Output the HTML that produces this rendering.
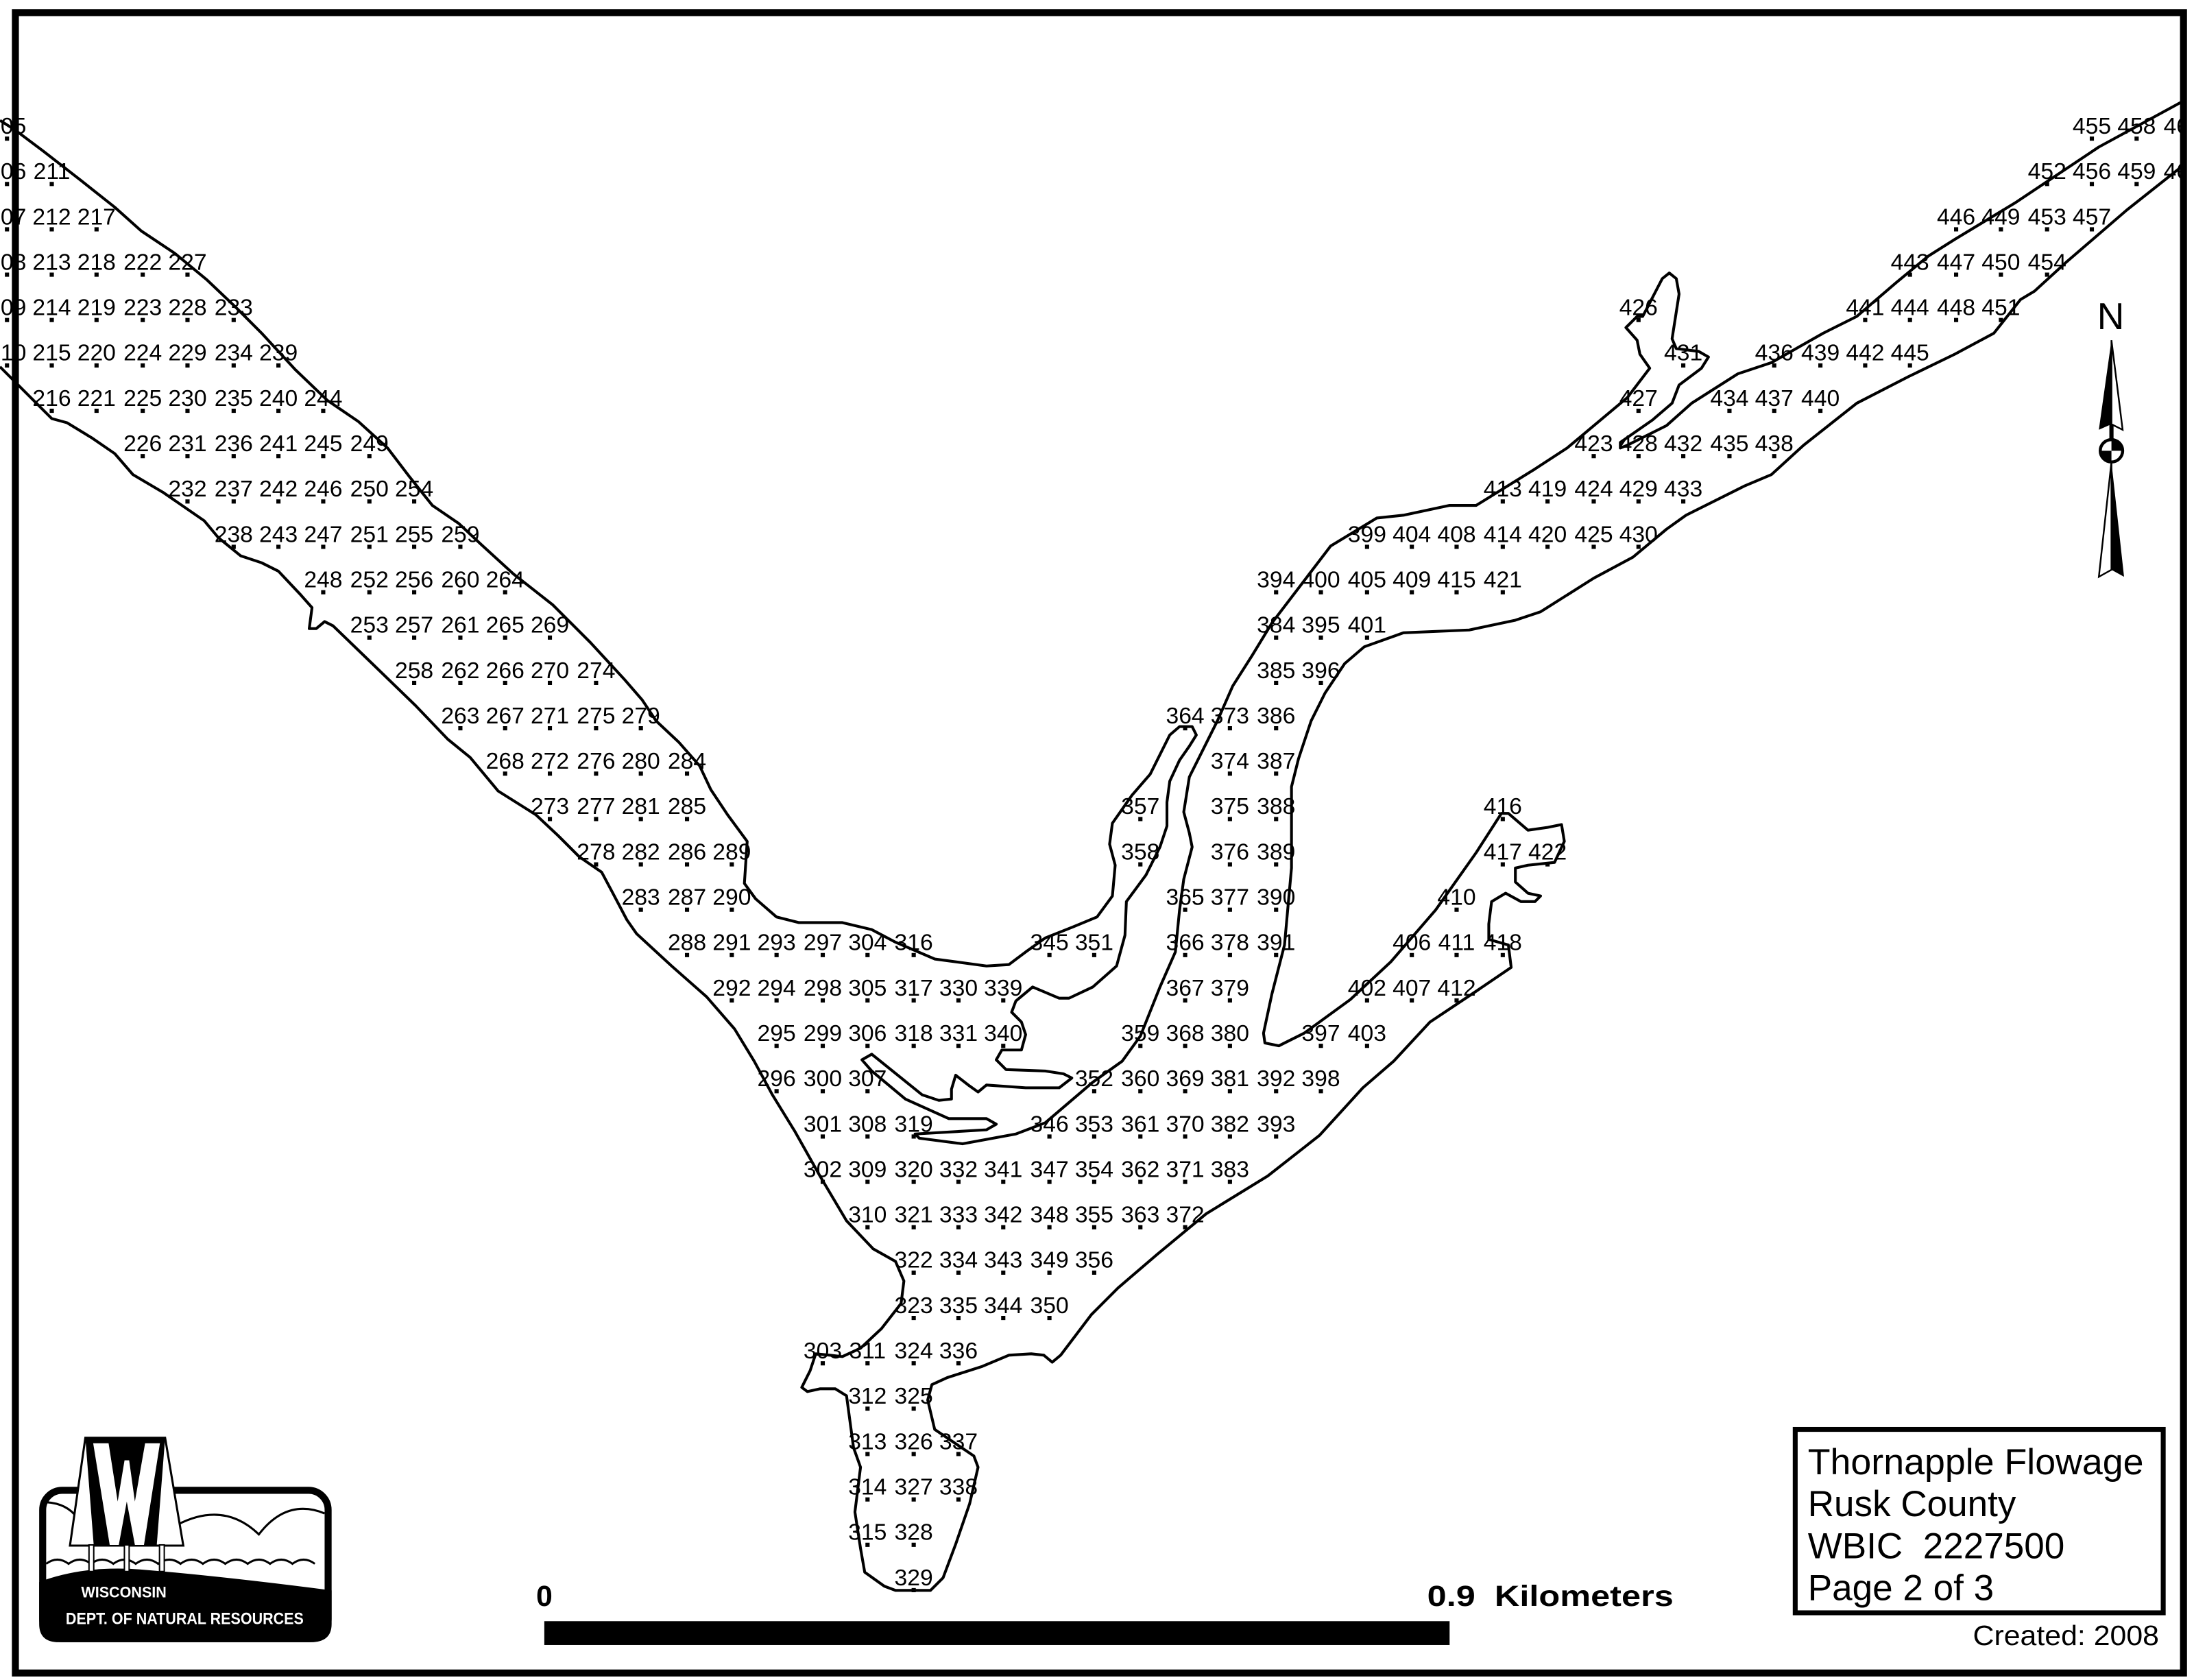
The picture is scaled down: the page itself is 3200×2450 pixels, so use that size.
<!DOCTYPE html>
<html><head><meta charset="utf-8"><style>
html,body{margin:0;padding:0;background:#fff}
svg{display:block}
.l text{font-family:"Liberation Sans",sans-serif;font-size:16.5px;text-anchor:middle;fill:#000}
.l path{stroke:#000;stroke-width:3;fill:none}
</style></head><body>
<svg width="3200" height="2450" viewBox="0 0 1568 1200" preserveAspectRatio="none" xmlns="http://www.w3.org/2000/svg">
<defs><clipPath id="c"><rect x="0" y="0" width="1560" height="1200"/></clipPath></defs>
<rect width="1568" height="1200" fill="#fff"/>
<g clip-path="url(#c)">
<g fill="none" stroke="#000" stroke-width="2" stroke-linejoin="round">
<polyline points="0,86 11,93 31,108 58,129 82,148 101,165 125,181 148,200 168,219 187,238 211,264 234,286 256,301 277,320 293,341 309,361 328,374 344,389 367,410 395,432 422,459 446,485 459,500 469,515 485,530 500,547 508,564 520,582 534,601 532,631 540,642 555,655 571,659 602,659 623,664 640,673 668,685 705,690 721,689 733,680 747,670 767,662 784,655 795,640 797,618 793,603 795,588 809,568 822,553 836,525 843,519 852,519 855,525 850,533 843,543 836,558 834,573 834,590 829,605 819,625 805,644 804,668 798,690 781,705 764,713 757,713 738,705 726,715 723,723 730,730 733,739 730,750 716,750 712,757 719,764 747,765 760,767 766,770 757,777 733,777 705,775 699,780 692,775 683,768 680,778 680,785 671,786 659,782 623,753 616,757 623,765 647,785 678,799 705,799 712,803 705,807 654,810 657,813 688,817 726,810 747,802 781,773 802,758 815,740 829,705 840,680 843,650 846,628 852,605 850,595 846,580 850,555 860,535 870,515 881,490 895,468 909,445 951,390 984,370 1003,368 1036,361 1055,361 1097,335 1120,320 1163,284 1179,263 1172,253 1170,243 1162,234 1170,226 1174,226 1188,199 1193,195 1198,199 1200,210 1195,242 1198,249 1214,251 1221,255 1216,263 1200,275 1195,288 1181,300 1158,316 1158,320 1163,318 1191,304 1209,288 1242,267 1266,259 1303,238 1327,226 1355,202 1378,183 1397,171 1440,145 1500,105 1568,68"/>
<polyline points="1568,112 1520,150 1477,187 1454,208 1444,214 1425,238 1397,253 1364,269 1327,288 1289,318 1266,339 1247,347 1205,368 1191,378 1167,398 1139,413 1101,437 1083,443 1050,450 1003,452 975,462 961,474 947,495 937,515 928,542 923,562 923,620 918,675 909,710 903,738 904,745 914,747 932,738 965,714 994,687 1026,650 1055,609 1073,581 1078,581 1092,593 1106,591 1116,589 1118,601 1111,616 1092,618 1083,620 1083,630 1092,638 1101,640 1097,644 1087,644 1076,638 1066,644 1064,660 1064,671 1078,675 1080,691 1055,708 1022,730 996,758 974,777 943,811 906,840 862,867 827,896 799,920 780,939 758,968 752,973 746,968 737,967 721,968 702,976 677,984 666,989 663,1000 668,1021 696,1040 699,1048 693,1074 683,1103 674,1127 665,1136 640,1136 632,1133 618,1123 615,1106 611,1080 615,1048 610,1034 605,997 597,992 586,992 577,994 573,991 579,979 583,967 593,968 602,969 615,963 630,949 644,931 646,915 640,901 624,892 605,872 586,840 568,808 552,782 539,758 525,735 505,712 480,690 455,667 448,657 438,638 430,623 414,612 399,597 383,582 356,565 336,541 320,528 297,504 266,474 238,447 232,444 226,449 221,449 223,434 215,425 199,408 187,402 172,397 156,384 146,372 117,352 95,339 82,324 66,313 48,302 37,299 15,277 0,262"/>
</g>
<g class="l">
<g transform="translate(0,95.5)"><text x="5">205</text><text x="1495">455</text><text x="1527">458</text><text x="1560">460</text><path d="M3.5 3.5h3M1493.5 3.5h3M1525.5 3.5h3M1558.5 3.5h3"/></g>
<g transform="translate(0,127.9)"><text x="5">206</text><text x="37">211</text><text x="1463">452</text><text x="1495">456</text><text x="1527">459</text><text x="1560">461</text><path d="M3.5 3.5h3M35.5 3.5h3M1461.5 3.5h3M1493.5 3.5h3M1525.5 3.5h3M1558.5 3.5h3"/></g>
<g transform="translate(0,160.3)"><text x="5">207</text><text x="37">212</text><text x="69">217</text><text x="1398">446</text><text x="1430">449</text><text x="1463">453</text><text x="1495">457</text><path d="M3.5 3.5h3M35.5 3.5h3M67.5 3.5h3M1396.5 3.5h3M1428.5 3.5h3M1461.5 3.5h3M1493.5 3.5h3"/></g>
<g transform="translate(0,192.7)"><text x="5">208</text><text x="37">213</text><text x="69">218</text><text x="102">222</text><text x="134">227</text><text x="1365">443</text><text x="1398">447</text><text x="1430">450</text><text x="1463">454</text><path d="M3.5 3.5h3M35.5 3.5h3M67.5 3.5h3M100.5 3.5h3M132.5 3.5h3M1363.5 3.5h3M1396.5 3.5h3M1428.5 3.5h3M1461.5 3.5h3"/></g>
<g transform="translate(0,225.1)"><text x="5">209</text><text x="37">214</text><text x="69">219</text><text x="102">223</text><text x="134">228</text><text x="167">233</text><text x="1171">426</text><text x="1333">441</text><text x="1365">444</text><text x="1398">448</text><text x="1430">451</text><path d="M3.5 3.5h3M35.5 3.5h3M67.5 3.5h3M100.5 3.5h3M132.5 3.5h3M165.5 3.5h3M1169.5 3.5h3M1331.5 3.5h3M1363.5 3.5h3M1396.5 3.5h3M1428.5 3.5h3"/></g>
<g transform="translate(0,257.5)"><text x="5">210</text><text x="37">215</text><text x="69">220</text><text x="102">224</text><text x="134">229</text><text x="167">234</text><text x="199">239</text><text x="1203">431</text><text x="1268">436</text><text x="1301">439</text><text x="1333">442</text><text x="1365">445</text><path d="M3.5 3.5h3M35.5 3.5h3M67.5 3.5h3M100.5 3.5h3M132.5 3.5h3M165.5 3.5h3M197.5 3.5h3M1201.5 3.5h3M1266.5 3.5h3M1299.5 3.5h3M1331.5 3.5h3M1363.5 3.5h3"/></g>
<g transform="translate(0,289.9)"><text x="37">216</text><text x="69">221</text><text x="102">225</text><text x="134">230</text><text x="167">235</text><text x="199">240</text><text x="231">244</text><text x="1171">427</text><text x="1236">434</text><text x="1268">437</text><text x="1301">440</text><path d="M35.5 3.5h3M67.5 3.5h3M100.5 3.5h3M132.5 3.5h3M165.5 3.5h3M197.5 3.5h3M229.5 3.5h3M1169.5 3.5h3M1234.5 3.5h3M1266.5 3.5h3M1299.5 3.5h3"/></g>
<g transform="translate(0,322.3)"><text x="102">226</text><text x="134">231</text><text x="167">236</text><text x="199">241</text><text x="231">245</text><text x="264">249</text><text x="1139">423</text><text x="1171">428</text><text x="1203">432</text><text x="1236">435</text><text x="1268">438</text><path d="M100.5 3.5h3M132.5 3.5h3M165.5 3.5h3M197.5 3.5h3M229.5 3.5h3M262.5 3.5h3M1137.5 3.5h3M1169.5 3.5h3M1201.5 3.5h3M1234.5 3.5h3M1266.5 3.5h3"/></g>
<g transform="translate(0,354.7)"><text x="134">232</text><text x="167">237</text><text x="199">242</text><text x="231">246</text><text x="264">250</text><text x="296">254</text><text x="1074">413</text><text x="1106">419</text><text x="1139">424</text><text x="1171">429</text><text x="1203">433</text><path d="M132.5 3.5h3M165.5 3.5h3M197.5 3.5h3M229.5 3.5h3M262.5 3.5h3M294.5 3.5h3M1072.5 3.5h3M1104.5 3.5h3M1137.5 3.5h3M1169.5 3.5h3M1201.5 3.5h3"/></g>
<g transform="translate(0,387.1)"><text x="167">238</text><text x="199">243</text><text x="231">247</text><text x="264">251</text><text x="296">255</text><text x="329">259</text><text x="977">399</text><text x="1009">404</text><text x="1041">408</text><text x="1074">414</text><text x="1106">420</text><text x="1139">425</text><text x="1171">430</text><path d="M165.5 3.5h3M197.5 3.5h3M229.5 3.5h3M262.5 3.5h3M294.5 3.5h3M327.5 3.5h3M975.5 3.5h3M1007.5 3.5h3M1039.5 3.5h3M1072.5 3.5h3M1104.5 3.5h3M1137.5 3.5h3M1169.5 3.5h3"/></g>
<g transform="translate(0,419.5)"><text x="231">248</text><text x="264">252</text><text x="296">256</text><text x="329">260</text><text x="361">264</text><text x="912">394</text><text x="944">400</text><text x="977">405</text><text x="1009">409</text><text x="1041">415</text><text x="1074">421</text><path d="M229.5 3.5h3M262.5 3.5h3M294.5 3.5h3M327.5 3.5h3M359.5 3.5h3M910.5 3.5h3M942.5 3.5h3M975.5 3.5h3M1007.5 3.5h3M1039.5 3.5h3M1072.5 3.5h3"/></g>
<g transform="translate(0,451.9)"><text x="264">253</text><text x="296">257</text><text x="329">261</text><text x="361">265</text><text x="393">269</text><text x="912">384</text><text x="944">395</text><text x="977">401</text><path d="M262.5 3.5h3M294.5 3.5h3M327.5 3.5h3M359.5 3.5h3M391.5 3.5h3M910.5 3.5h3M942.5 3.5h3M975.5 3.5h3"/></g>
<g transform="translate(0,484.3)"><text x="296">258</text><text x="329">262</text><text x="361">266</text><text x="393">270</text><text x="426">274</text><text x="912">385</text><text x="944">396</text><path d="M294.5 3.5h3M327.5 3.5h3M359.5 3.5h3M391.5 3.5h3M424.5 3.5h3M910.5 3.5h3M942.5 3.5h3"/></g>
<g transform="translate(0,516.7)"><text x="329">263</text><text x="361">267</text><text x="393">271</text><text x="426">275</text><text x="458">279</text><text x="847">364</text><text x="879">373</text><text x="912">386</text><path d="M327.5 3.5h3M359.5 3.5h3M391.5 3.5h3M424.5 3.5h3M456.5 3.5h3M845.5 3.5h3M877.5 3.5h3M910.5 3.5h3"/></g>
<g transform="translate(0,549.1)"><text x="361">268</text><text x="393">272</text><text x="426">276</text><text x="458">280</text><text x="491">284</text><text x="879">374</text><text x="912">387</text><path d="M359.5 3.5h3M391.5 3.5h3M424.5 3.5h3M456.5 3.5h3M489.5 3.5h3M877.5 3.5h3M910.5 3.5h3"/></g>
<g transform="translate(0,581.5)"><text x="393">273</text><text x="426">277</text><text x="458">281</text><text x="491">285</text><text x="815">357</text><text x="879">375</text><text x="912">388</text><text x="1074">416</text><path d="M391.5 3.5h3M424.5 3.5h3M456.5 3.5h3M489.5 3.5h3M813.5 3.5h3M877.5 3.5h3M910.5 3.5h3M1072.5 3.5h3"/></g>
<g transform="translate(0,613.9)"><text x="426">278</text><text x="458">282</text><text x="491">286</text><text x="523">289</text><text x="815">358</text><text x="879">376</text><text x="912">389</text><text x="1074">417</text><text x="1106">422</text><path d="M424.5 3.5h3M456.5 3.5h3M489.5 3.5h3M521.5 3.5h3M813.5 3.5h3M877.5 3.5h3M910.5 3.5h3M1072.5 3.5h3M1104.5 3.5h3"/></g>
<g transform="translate(0,646.3)"><text x="458">283</text><text x="491">287</text><text x="523">290</text><text x="847">365</text><text x="879">377</text><text x="912">390</text><text x="1041">410</text><path d="M456.5 3.5h3M489.5 3.5h3M521.5 3.5h3M845.5 3.5h3M877.5 3.5h3M910.5 3.5h3M1039.5 3.5h3"/></g>
<g transform="translate(0,678.7)"><text x="491">288</text><text x="523">291</text><text x="555">293</text><text x="588">297</text><text x="620">304</text><text x="653">316</text><text x="750">345</text><text x="782">351</text><text x="847">366</text><text x="879">378</text><text x="912">391</text><text x="1009">406</text><text x="1041">411</text><text x="1074">418</text><path d="M489.5 3.5h3M521.5 3.5h3M553.5 3.5h3M586.5 3.5h3M618.5 3.5h3M651.5 3.5h3M748.5 3.5h3M780.5 3.5h3M845.5 3.5h3M877.5 3.5h3M910.5 3.5h3M1007.5 3.5h3M1039.5 3.5h3M1072.5 3.5h3"/></g>
<g transform="translate(0,711.1)"><text x="523">292</text><text x="555">294</text><text x="588">298</text><text x="620">305</text><text x="653">317</text><text x="685">330</text><text x="717">339</text><text x="847">367</text><text x="879">379</text><text x="977">402</text><text x="1009">407</text><text x="1041">412</text><path d="M521.5 3.5h3M553.5 3.5h3M586.5 3.5h3M618.5 3.5h3M651.5 3.5h3M683.5 3.5h3M715.5 3.5h3M845.5 3.5h3M877.5 3.5h3M975.5 3.5h3M1007.5 3.5h3M1039.5 3.5h3"/></g>
<g transform="translate(0,743.5)"><text x="555">295</text><text x="588">299</text><text x="620">306</text><text x="653">318</text><text x="685">331</text><text x="717">340</text><text x="815">359</text><text x="847">368</text><text x="879">380</text><text x="944">397</text><text x="977">403</text><path d="M553.5 3.5h3M586.5 3.5h3M618.5 3.5h3M651.5 3.5h3M683.5 3.5h3M715.5 3.5h3M813.5 3.5h3M845.5 3.5h3M877.5 3.5h3M942.5 3.5h3M975.5 3.5h3"/></g>
<g transform="translate(0,775.9)"><text x="555">296</text><text x="588">300</text><text x="620">307</text><text x="782">352</text><text x="815">360</text><text x="847">369</text><text x="879">381</text><text x="912">392</text><text x="944">398</text><path d="M553.5 3.5h3M586.5 3.5h3M618.5 3.5h3M780.5 3.5h3M813.5 3.5h3M845.5 3.5h3M877.5 3.5h3M910.5 3.5h3M942.5 3.5h3"/></g>
<g transform="translate(0,808.3)"><text x="588">301</text><text x="620">308</text><text x="653">319</text><text x="750">346</text><text x="782">353</text><text x="815">361</text><text x="847">370</text><text x="879">382</text><text x="912">393</text><path d="M586.5 3.5h3M618.5 3.5h3M651.5 3.5h3M748.5 3.5h3M780.5 3.5h3M813.5 3.5h3M845.5 3.5h3M877.5 3.5h3M910.5 3.5h3"/></g>
<g transform="translate(0,840.7)"><text x="588">302</text><text x="620">309</text><text x="653">320</text><text x="685">332</text><text x="717">341</text><text x="750">347</text><text x="782">354</text><text x="815">362</text><text x="847">371</text><text x="879">383</text><path d="M586.5 3.5h3M618.5 3.5h3M651.5 3.5h3M683.5 3.5h3M715.5 3.5h3M748.5 3.5h3M780.5 3.5h3M813.5 3.5h3M845.5 3.5h3M877.5 3.5h3"/></g>
<g transform="translate(0,873.1)"><text x="620">310</text><text x="653">321</text><text x="685">333</text><text x="717">342</text><text x="750">348</text><text x="782">355</text><text x="815">363</text><text x="847">372</text><path d="M618.5 3.5h3M651.5 3.5h3M683.5 3.5h3M715.5 3.5h3M748.5 3.5h3M780.5 3.5h3M813.5 3.5h3M845.5 3.5h3"/></g>
<g transform="translate(0,905.5)"><text x="653">322</text><text x="685">334</text><text x="717">343</text><text x="750">349</text><text x="782">356</text><path d="M651.5 3.5h3M683.5 3.5h3M715.5 3.5h3M748.5 3.5h3M780.5 3.5h3"/></g>
<g transform="translate(0,937.9)"><text x="653">323</text><text x="685">335</text><text x="717">344</text><text x="750">350</text><path d="M651.5 3.5h3M683.5 3.5h3M715.5 3.5h3M748.5 3.5h3"/></g>
<g transform="translate(0,970.3)"><text x="588">303</text><text x="620">311</text><text x="653">324</text><text x="685">336</text><path d="M586.5 3.5h3M618.5 3.5h3M651.5 3.5h3M683.5 3.5h3"/></g>
<g transform="translate(0,1002.7)"><text x="620">312</text><text x="653">325</text><path d="M618.5 3.5h3M651.5 3.5h3"/></g>
<g transform="translate(0,1035.1)"><text x="620">313</text><text x="653">326</text><text x="685">337</text><path d="M618.5 3.5h3M651.5 3.5h3M683.5 3.5h3"/></g>
<g transform="translate(0,1067.5)"><text x="620">314</text><text x="653">327</text><text x="685">338</text><path d="M618.5 3.5h3M651.5 3.5h3M683.5 3.5h3"/></g>
<g transform="translate(0,1099.9)"><text x="620">315</text><text x="653">328</text><path d="M618.5 3.5h3M651.5 3.5h3"/></g>
<g transform="translate(0,1132.3)"><text x="653">329</text><path d="M651.5 3.5h3"/></g>
</g>
</g>
<!-- frame -->
<rect x="11" y="9" width="1549.5" height="1186" fill="none" stroke="#000" stroke-width="5"/>
<!-- north arrow -->
<text x="1508.5" y="235" font-family="Liberation Sans, sans-serif" font-size="27" text-anchor="middle">N</text>
<polygon points="1509,243 1500,307 1509,303" fill="#000"/>
<polygon points="1509,243 1517,307 1509,303" fill="#fff" stroke="#000" stroke-width="1.2"/>
<rect x="1507.5" y="303" width="3" height="12" fill="#000"/>
<circle cx="1509" cy="322" r="8" fill="#fff" stroke="#000" stroke-width="2.2"/>
<path d="M1509 322 L1509 314 A8 8 0 0 1 1517 322 Z" fill="#000"/>
<path d="M1509 322 L1509 330 A8 8 0 0 1 1501 322 Z" fill="#000"/>
<polygon points="1509,330 1518,412 1509,407" fill="#000"/>
<polygon points="1509,330 1500,412 1509,407" fill="#fff" stroke="#000" stroke-width="1.2"/>
<!-- scale bar -->
<text x="389" y="1147" font-family="Liberation Sans, sans-serif" font-size="21" font-weight="bold" text-anchor="middle">0</text>
<text x="1020" y="1147" font-family="Liberation Sans, sans-serif" font-size="21" font-weight="bold" xml:space="preserve" textLength="176" lengthAdjust="spacingAndGlyphs">0.9  Kilometers</text>
<rect x="389" y="1158" width="647" height="17" fill="#000"/>
<!-- title -->
<rect x="1283" y="1021" width="263" height="131" fill="#fff" stroke="#000" stroke-width="3.5"/>
<g font-family="Liberation Sans, sans-serif" font-size="26">
<text x="1292" y="1053" textLength="240" lengthAdjust="spacingAndGlyphs">Thornapple Flowage</text>
<text x="1292" y="1083">Rusk County</text>
<text x="1292" y="1113" xml:space="preserve">WBIC  2227500</text>
<text x="1292" y="1143">Page 2 of 3</text>
</g>
<text x="1543" y="1175" font-family="Liberation Sans, sans-serif" font-size="20" text-anchor="end" textLength="133" lengthAdjust="spacingAndGlyphs">Created: 2008</text>
<!-- logo -->
<rect x="30.5" y="1064.5" width="204" height="106" rx="14" fill="#fff" stroke="#000" stroke-width="5"/>
<path d="M28 1130 Q60 1118 100 1121 Q160 1126 237 1136 L237 1160 Q237 1173 222 1173 L42 1173 Q28 1173 28 1160 Z" fill="#000"/>
<path d="M33 1073 Q48 1074 55 1084 M127 1089 Q160 1072 185 1096 Q205 1070 232 1081" fill="none" stroke="#000" stroke-width="1.5"/>
<path d="M33 1117 q8 -6 16 0 q8 -6 16 0 q8 -6 16 0 q8 -6 16 0 q8 -6 16 0 q8 -6 16 0 q8 -6 16 0 q8 -6 16 0 q8 -6 16 0 q8 -6 16 0 q8 -6 16 0 q8 -6 16 0" fill="none" stroke="#000" stroke-width="1.5"/>
<polygon points="61,1027 118,1027 131,1104 50,1104" fill="#fff" stroke="#000" stroke-width="1.5"/>
<polygon points="61,1027 118,1027 112,1104 67,1104" fill="#000"/>
<polygon points="66.6,1030.9 77.6,1030.9 84.1,1072.5 89,1043.1 92.3,1043.1 96.4,1072.5 103.7,1030.9 114.3,1030.9 102.9,1103.5 96.4,1103.5 90.6,1072.5 84.9,1103.5 78.4,1103.5" fill="#fff"/>
<g fill="#fff" stroke="#000" stroke-width="1"><rect x="63.6" y="1103.5" width="3.4" height="19"/><rect x="88.9" y="1103.5" width="3.4" height="19"/><rect x="114" y="1103.5" width="3.4" height="19"/></g>
<g font-family="Liberation Sans, sans-serif" font-weight="bold" fill="#fff">
<text x="58" y="1141" font-size="11" textLength="61" lengthAdjust="spacingAndGlyphs">WISCONSIN</text>
<text x="47" y="1160" font-size="12" textLength="170" lengthAdjust="spacingAndGlyphs">DEPT. OF NATURAL RESOURCES</text>
</g>
</svg>
</body></html>
